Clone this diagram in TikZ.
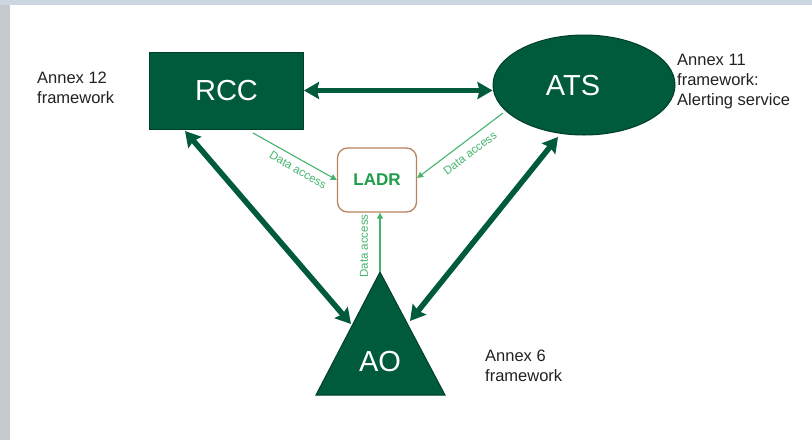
\documentclass[tikz,border=0pt]{standalone}
\usepackage{fontspec}
\setmainfont{Liberation Sans}
\usetikzlibrary{arrows.meta,shapes.geometric,calc}
\definecolor{dkgreen}{HTML}{005A3C}
\definecolor{dkedge}{HTML}{00402A}
\definecolor{ltgreen}{HTML}{45B56E}
\definecolor{ladrgreen}{HTML}{1E9E4A}
\definecolor{brownedge}{HTML}{B8825C}
\definecolor{stripleft}{HTML}{C6CACF}
\definecolor{striptop}{HTML}{CBD6E0}
\definecolor{annextext}{HTML}{222222}
\tikzset{
  bigshape/.style={fill=dkgreen,draw=dkedge,line width=1pt,text=white,font=\fontsize{29}{32}\selectfont},
  bigtext/.style={text=white,font=\fontsize{29}{32}\selectfont,inner sep=0pt},
  bigarrow/.style={draw=dkgreen,line width=5.5pt,{Stealth[length=15pt,width=17pt,inset=2pt]}-{Stealth[length=15pt,width=17pt,inset=2pt]}},
  dataarrow/.style={draw=ltgreen,line width=1.1pt,-{Triangle[length=6pt,width=6pt]}},
  datalabel/.style={text=ltgreen,font=\fontsize{11.5}{13}\selectfont,inner sep=0pt},
  annex/.style={text=annextext,font=\fontsize{16.5}{20}\selectfont,align=left,anchor=north west,inner sep=0pt},
  ladrbox/.style={draw=brownedge,line width=1.3pt,rounded corners=10pt,fill=white,minimum width=79pt,minimum height=64pt,text=ladrgreen,font=\fontsize{17}{20}\selectfont\bfseries}
}
\begin{document}
\begin{tikzpicture}[x=1pt,y=-1pt]
\useasboundingbox (0,0) rectangle (812,440);
\fill[stripleft] (0,0) rectangle (812,440);
\fill[striptop] (0,0) rectangle (812,5);
\fill[white] (10,5) rectangle (812,440);

% main shapes
\node[bigshape,rectangle,minimum width=154pt,minimum height=77pt] (RCC) at (226.5,90.5) {RCC};
\node[bigshape,ellipse,minimum width=182pt,minimum height=100pt,inner sep=0pt] (ATS) at (584,85) {};
\node[bigtext] (ATStext) at ($(ATS.center)+(-11,1)$) {ATS};
\node[ladrbox] (LADR) at (377,180) {LADR};

\coordinate (AOtop) at (380,272);
\coordinate (AOleft) at (316,395);
\coordinate (AOright) at (445,395);
\fill[dkgreen,draw=dkedge,line width=1pt] (AOtop) -- (AOright) -- (AOleft) -- cycle;
\node[bigtext] (AO) at (380,362) {AO};

% thick connectors
\draw[bigarrow] (RCC.east) -- (RCC.east -| ATS.west);
\coordinate (rccA) at (185,131);
\coordinate (aoL) at (351,324);
\draw[bigarrow] (rccA) -- (aoL);
\coordinate (atsA) at (558,137);
\coordinate (aoR) at (410,321);
\draw[bigarrow] (atsA) -- (aoR);

% data access connectors
\coordinate (rccD) at (253,133);
\draw[dataarrow] (rccD) -- (LADR.west |- 0,180);
\coordinate (atsD) at (503,113);
\draw[dataarrow] (atsD) -- (LADR.east |- 0,178);
\draw[dataarrow] (AOtop) -- (LADR.south -| AOtop);

\node[datalabel,rotate=-29.5] (dl1) at (298,170) {Data access};
\node[datalabel,rotate=37] (dl2) at (470,153) {Data access};
\node[datalabel,rotate=90] (dl3) at (364,246) {Data access};

% annex labels
\node[annex] (an12) at (37,72) {Annex 12\\framework};
\node[annex] (an11) at (677,54) {Annex 11\\framework:\\Alerting service};
\node[annex] (an6) at (485,350) {Annex 6\\framework};
\end{tikzpicture}
\end{document}
